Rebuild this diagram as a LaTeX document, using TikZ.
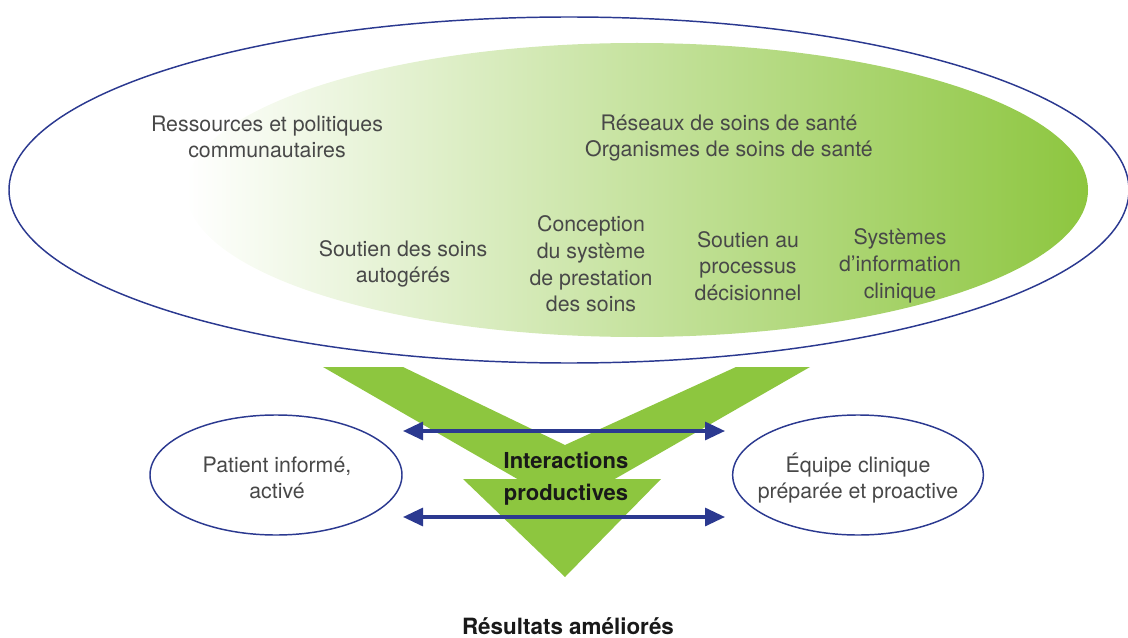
\documentclass[tikz,border=0pt]{standalone}
\usepackage{fontspec}
\setmainfont{TeX Gyre Heros}
\usetikzlibrary{shapes.geometric,arrows.meta}
\definecolor{ccgreen}{RGB}{141,198,63}
\definecolor{ccblue}{RGB}{43,57,144}
\definecolor{cctext}{RGB}{72,72,72}

\begin{document}
\begin{tikzpicture}[x=0.75pt,y=-0.75pt,
    txt/.style={align=center,text=cctext,font=\fontsize{16}{20}\selectfont},
    boldtxt/.style={align=center,text=black!90,font=\fontsize{16.5}{24}\selectfont\bfseries},
    oval/.style={ellipse,draw=ccblue,line width=1.1pt,inner sep=0pt},
    link/.style={draw=ccblue,line width=2.4pt,
      {Triangle[length=15pt,width=13.5pt]}-{Triangle[length=15pt,width=13.5pt]}}]
\useasboundingbox (0,0) rectangle (1128,638);
\node[oval,minimum width=840pt,minimum height=259.5pt] (sys) at (569,190) {};
\node[ellipse,inner sep=0pt,left color=white,right color=ccgreen,
  minimum width=676.5pt,minimum height=220.5pt] (org) at (637,190) {};
\node[txt] (com) at (267,137) {Ressources et politiques\\communautaires};
\node[txt] (net) at (729,138) {Réseaux de soins de santé\\Organismes de soins de santé};
\node[txt] (self) at (403,264) {Soutien des soins\\autogérés};
\node[txt] (design) at (591,264) {Conception\\du système\\de prestation\\des soins};
\node[txt] (dec) at (748,266) {Soutien au\\processus\\décisionnel};
\node[txt] (info) at (900,266) {Systèmes\\d’information\\clinique};
\fill[ccgreen] (323,367) -- (403,367) -- (565,445) -- (736,367) -- (810,367) -- (566,507) -- cycle;
\fill[ccgreen] (463,479) -- (661,479) -- (565,577) -- cycle;
\node[oval,minimum width=189pt,minimum height=90pt] (pat) at (276,475) {};
\node[oval,minimum width=188pt,minimum height=90pt] (team) at (858,475) {};
\node[txt] (pattxt) at (277,478) {Patient informé,\\activé};
\node[txt] (teamtxt) at (858,478) {Équipe clinique\\préparée et proactive};
\node[boldtxt] (inter) at (566,479) {Interactions\\productives};
\node[boldtxt,font=\fontsize{16.8}{20}\selectfont\bfseries,anchor=base,inner sep=0pt] (res) at (568,634) {Résultats améliorés};
\coordinate (p1) at (403,431);
\coordinate (t1) at (725,431);
\coordinate (p2) at (403,517);
\coordinate (t2) at (725,517);
\draw[link] (p1) -- (t1);
\draw[link] (p2) -- (t2);
\end{tikzpicture}
\end{document}
